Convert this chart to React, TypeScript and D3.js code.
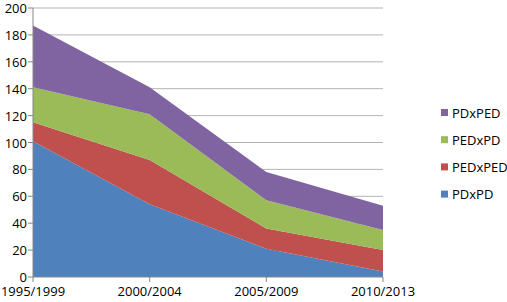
import React from "react";
import * as d3 from "d3";

const categories = ["1995/1999", "2000/2004", "2005/2009", "2010/2013"];
const seriesNames = ["PDxPD", "PEDxPED", "PEDxPD", "PDxPED"];
const PDxPD = [101, 54, 21, 4];
const PEDxPED = [14, 33, 15, 16];
const PEDxPD = [26, 34, 21, 15];
const PDxPED = [46, 20, 21, 18];
const yTicks = [0, 20, 40, 60, 80, 100, 120, 140, 160, 180, 200];
const colors = ["#4F81BD", "#C0504D", "#9BBB59", "#8064A2"];

const W = 507, H = 302;
const left = 33, right = 383, top = 8, bottom = 277;
const FONT = "'Open Sans', sans-serif";

export default function App() {
  const values = [PDxPD, PEDxPED, PEDxPD, PDxPED];
  const rows = categories.map((c, i) => {
    const r: any = { cat: c };
    seriesNames.forEach((s, k) => (r[s] = values[k][i]));
    return r;
  });
  const stack = d3.stack().keys(seriesNames)(rows);
  const x = d3.scalePoint().domain(categories).range([left, right]);
  const y = d3.scaleLinear().domain([0, 200]).range([bottom, top]);
  const area = d3
    .area<any>()
    .x((d) => x(d.data.cat) as number)
    .y0((d) => y(d[0]))
    .y1((d) => y(d[1]));

  const legendOrder = [3, 2, 1, 0];
  return (
    <svg width={W} height={H} style={{ position: "absolute", left: 0, top: 0 }}>
      <rect width={W} height={H} fill="#fff" />
      {yTicks.map((t) => (
        <g key={t}>
          {t > 0 && (
            <line x1={left} x2={right} y1={y(t)} y2={y(t)} stroke="#b3b3b3" strokeWidth={1} />
          )}
          <line x1={left - 5} x2={left} y1={y(t)} y2={y(t)} stroke="#868686" />
          <text
            x={left - 6}
            y={y(t)}
            textAnchor="end"
            dominantBaseline="central"
            fontFamily={FONT}
            fontSize={13}
            fill="#000"
          >
            {t}
          </text>
        </g>
      ))}
      {stack.map((s, k) => (
        <path key={s.key} d={area(s as any) as string} fill={colors[k]} />
      ))}
      <line x1={left} x2={left} y1={top} y2={bottom} stroke="#868686" />
      <line x1={left} x2={right} y1={bottom} y2={bottom} stroke="#868686" />
      {categories.map((c) => (
        <g key={c}>
          <line x1={x(c)} x2={x(c)} y1={bottom} y2={bottom + 5} stroke="#868686" />
          <text
            x={x(c)}
            y={bottom + 14}
            textAnchor="middle"
            dominantBaseline="central"
            fontFamily={FONT}
            fontSize={13}
            fill="#000"
          >
            {c}
          </text>
        </g>
      ))}
      {legendOrder.map((k, i) => {
        const cy = 112.5 + i * 27.2;
        return (
          <g key={k}>
            <rect x={441} y={cy - 3.5} width={7} height={7} fill={colors[k]} />
            <text
              x={452}
              y={cy}
              dominantBaseline="central"
              fontFamily={FONT}
              fontSize={13}
              fill="#000"
            >
              {seriesNames[k]}
            </text>
          </g>
        );
      })}
    </svg>
  );
}
